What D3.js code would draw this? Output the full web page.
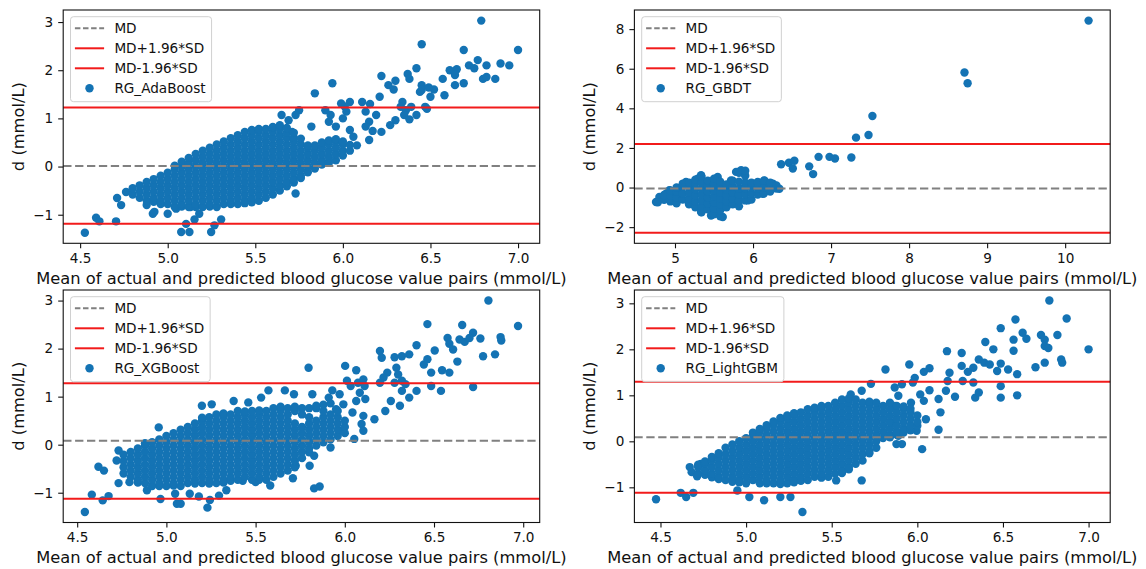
<!DOCTYPE html>
<html>
<head>
<meta charset="utf-8">
<script src="https://cdn.jsdelivr.net/npm/d3@7"></script>
<style>
  body { margin: 0; background: #fff; }
  svg { display: block; }
  text { font-family: "DejaVu Sans", sans-serif; fill: #111; }
</style>
</head>
<body>
<svg id="chart" width="1146" height="569"></svg>
<script>
// ---- data ----
const tickX = [4.5, 5.0, 5.5, 6.0, 6.5, 7.0];
const tickY = [-1, 0, 1, 2, 3];
const tickXGbdt = [5, 6, 7, 8, 9, 10];
const tickYGbdt = [-2, 0, 2, 4, 6, 8];
const legendLabels = ["MD", "MD+1.96*SD", "MD-1.96*SD"];

// [MD, MD+1.96SD, MD-1.96SD]
const adaLines = [0.014, 1.227, -1.185];
const gbdtLines = [-0.05, 2.20, -2.28];
const xgbLines = [0.083, 1.278, -1.126];
const lgbLines = [0.086, 1.297, -1.117];

// single points [mean, d]
const adaPoints = [[6.79,3.03],[6.45,2.54],[6.69,2.42],[7.0,2.42],
  [6.61,2.0],[6.65,2.02],[6.64,1.9],[6.72,2.1],[6.75,2.04],[6.77,2.21],[6.82,2.1],[6.9,2.14],[6.95,2.1],[6.87,1.82],[6.8,1.82],[6.82,1.86],
  [6.57,1.82],[6.69,1.73],[6.64,1.69],[6.58,1.48],[6.52,1.6],[6.5,1.45],
  [6.42,2.04],[6.37,1.92],[6.38,1.82],[6.3,1.78],[6.26,1.69],[6.29,1.6],[6.22,1.88],[6.21,1.45],
  [6.45,1.69],[6.45,1.59],[6.49,1.64],[6.44,1.55],[6.47,1.24],[6.48,1.2],
  [6.34,1.34],[6.33,1.24],[6.36,1.17],[6.39,1.24],[6.35,1.07],[6.42,1.07],[6.38,0.98],[6.3,0.96],[6.27,0.86],[6.22,0.72],
  [6.155,1.3],[6.11,1.34],[6.13,1.14],[6.19,1.07],[6.15,0.93],[6.13,0.83],[6.17,0.74],[6.15,0.55],
  [6.04,1.34],[6.01,1.25],[5.99,1.31],[6.02,1.14],[6.0,1.0],[6.04,0.76],[6.06,0.62],[6.08,0.44],
  [5.94,1.73],[5.84,1.52],[5.9,1.17],[5.93,1.07],[5.92,0.93],[5.96,0.83],[5.82,0.83],[5.75,1.17],[5.73,1.07],[5.69,0.96],[5.65,1.07],[5.71,0.72],
  [4.527,-1.373],[4.591,-1.061],[4.61,-1.137],[4.705,-1.137],[4.711,-0.652],[4.734,-0.8],[4.762,-0.527],[4.88,-0.8],[4.915,-0.98],[4.924,-0.94],
  [5.0,-0.98],[5.048,-0.874],[5.077,-1.36],[5.105,-1.19],[5.124,-1.36],[5.13,-0.84],[5.153,-1.1],[5.18,-0.98],[5.248,-1.36],[5.267,-1.22],[5.305,-1.1],[5.73,-0.56]];

// dense part: [mean, [d, d, ...]]
const adaCloud = [
  [4.80,[-0.58,-0.45]],
  [4.84,[-0.65,-0.52,-0.39]],
  [4.88,[-0.71,-0.58,-0.45,-0.32]],
  [4.92,[-0.73,-0.65,-0.52,-0.39,-0.26]],
  [4.96,[-0.78,-0.71,-0.58,-0.45,-0.32,-0.19]],
  [5.00,[-0.78,-0.65,-0.52,-0.39,-0.26,-0.13]],
  [5.04,[-0.84,-0.71,-0.58,-0.45,-0.32,-0.19,-0.06,0.02]],
  [5.08,[-0.83,-0.78,-0.65,-0.52,-0.39,-0.26,-0.13,0.00,0.10]],
  [5.12,[-0.84,-0.71,-0.58,-0.45,-0.32,-0.19,-0.06,0.07,0.18]],
  [5.16,[-0.84,-0.78,-0.65,-0.52,-0.39,-0.26,-0.13,0.00,0.13,0.26]],
  [5.20,[-0.84,-0.71,-0.58,-0.45,-0.32,-0.19,-0.06,0.07,0.20,0.33]],
  [5.24,[-0.83,-0.78,-0.65,-0.52,-0.39,-0.26,-0.13,0.00,0.13,0.26,0.39]],
  [5.28,[-0.84,-0.71,-0.58,-0.45,-0.32,-0.19,-0.06,0.07,0.20,0.33,0.46]],
  [5.32,[-0.78,-0.65,-0.52,-0.39,-0.26,-0.13,0.00,0.13,0.26,0.39,0.52]],
  [5.36,[-0.78,-0.71,-0.58,-0.45,-0.32,-0.19,-0.06,0.07,0.20,0.33,0.46,0.59]],
  [5.40,[-0.78,-0.65,-0.52,-0.39,-0.26,-0.13,0.00,0.13,0.26,0.39,0.52,0.65]],
  [5.44,[-0.76,-0.71,-0.58,-0.45,-0.32,-0.19,-0.06,0.07,0.20,0.33,0.46,0.59,0.72]],
  [5.48,[-0.74,-0.65,-0.52,-0.39,-0.26,-0.13,0.00,0.13,0.26,0.39,0.52,0.65,0.76]],
  [5.52,[-0.71,-0.58,-0.45,-0.32,-0.19,-0.06,0.07,0.20,0.33,0.46,0.59,0.72,0.78]],
  [5.56,[-0.65,-0.52,-0.39,-0.26,-0.13,0.00,0.13,0.26,0.39,0.52,0.65,0.78]],
  [5.60,[-0.58,-0.45,-0.32,-0.19,-0.06,0.07,0.20,0.33,0.46,0.59,0.72,0.82]],
  [5.64,[-0.50,-0.39,-0.26,-0.13,0.00,0.13,0.26,0.39,0.52,0.65,0.78,0.86]],
  [5.68,[-0.41,-0.32,-0.19,-0.06,0.07,0.20,0.33,0.46,0.59,0.70,0.80]],
  [5.72,[-0.33,-0.26,-0.13,0.00,0.13,0.26,0.39,0.52,0.60,0.70]],
  [5.76,[-0.24,-0.19,-0.06,0.07,0.20,0.33,0.46,0.58]],
  [5.80,[-0.12,0.00,0.13,0.26,0.39,0.44]],
  [5.84,[-0.04,0.07,0.20,0.33,0.44]],
  [5.88,[0.04,0.13,0.26,0.39,0.50]],
  [5.92,[0.08,0.20,0.33,0.46,0.54]],
  [5.96,[0.13,0.26,0.39,0.52,0.57]],
  [6.00,[0.23,0.33,0.46,0.52]],
  [6.04,[0.33,0.45]]
];

const gbdtPoints = [[4.757,-0.73],[4.80,-0.48],[4.885,-0.31],[4.928,-0.14],[4.992,-0.65],[5.035,-0.06],[5.099,0.11],[5.141,0.28],[5.163,-0.65],
  [5.227,-0.82],[5.248,0.20],[5.291,0.45],[5.334,0.62],[5.334,-1.24],[5.376,-0.48],[5.398,-0.06],[5.462,-1.41],[5.483,-0.82],[5.526,0.36],
  [5.547,0.53],[5.569,-0.23],[5.612,-1.49],[5.654,-0.48],[5.718,0.36],[5.783,0.79],[5.847,0.87],[5.89,0.70],[5.868,-0.06],[5.825,-0.65],
  [5.932,-0.65],[5.996,0.11],[6.06,0.28],[6.103,0.11],[6.146,0.36],[6.124,-0.31],[6.21,0.11],[6.253,0.20],[6.295,0.03],[6.338,-0.06],
  [6.36,1.18],[6.46,1.25],[6.53,1.35],[6.51,0.96],[6.72,1.07],[6.77,0.68],[6.84,1.55],[6.98,1.55],[7.05,1.47],[7.26,1.52],
  [7.32,2.52],[7.48,2.65],[7.53,3.61],[8.71,5.81],[8.75,5.27],[10.30,8.43]];
const gbdtCloud = [
  [4.78,[-0.75]],
  [4.86,[-0.62,-0.38]],
  [4.94,[-0.70,-0.40,-0.15]],
  [5.02,[-0.80,-0.50,-0.20,0.00]],
  [5.10,[-0.60,-0.30,0.05,0.20]],
  [5.18,[-0.85,-0.55,-0.25,0.05,0.25]],
  [5.26,[-1.00,-0.70,-0.40,-0.10,0.20,0.40]],
  [5.34,[-1.25,-0.95,-0.65,-0.35,-0.05,0.25,0.55]],
  [5.42,[-1.10,-0.80,-0.50,-0.20,0.10,0.35]],
  [5.50,[-1.35,-1.05,-0.75,-0.45,-0.15,0.15,0.45]],
  [5.58,[-1.45,-1.15,-0.85,-0.55,-0.25,0.05,0.30]],
  [5.66,[-1.00,-0.70,-0.40,-0.10,0.15]],
  [5.74,[-0.85,-0.55,-0.25,0.05,0.35]],
  [5.82,[-0.95,-0.65,-0.35,-0.05,0.30,0.75]],
  [5.90,[-0.65,-0.35,-0.05,0.25,0.60,0.85]],
  [5.98,[-0.60,-0.30,0.00,0.25]],
  [6.06,[-0.35,-0.05,0.25]],
  [6.14,[-0.30,0.00,0.35]],
  [6.22,[-0.20,0.10,0.25]],
  [6.30,[-0.05,0.10]]
];

const xgbPoints = [[6.805,3.0],[6.971,2.47],[6.463,2.51],[6.658,2.49],[6.719,2.33],[6.576,2.22],[6.586,2.1],[6.643,2.19],[6.672,2.14],[6.699,2.22],
  [6.76,2.21],[6.873,2.24],[6.877,2.17],[6.842,1.88],[6.775,1.84],[6.607,1.98],[6.631,1.73],[6.504,1.96],[6.402,2.07],[6.361,1.88],[6.32,1.84],
  [6.279,1.82],[6.197,1.95],[6.207,1.81],[6.443,1.67],[6.463,1.78],[6.484,1.5],[6.545,1.55],[6.586,1.5],[6.484,1.22],[6.539,1.12],[6.719,1.2],
  [6.289,1.6],[6.299,1.46],[6.238,1.5],[6.217,1.4],[6.197,1.29],[6.32,1.33],[6.279,1.29],[6.34,1.26],[6.32,1.12],[6.402,1.12],[6.361,0.98],
  [6.258,0.91],[6.309,0.81],[6.227,0.7],[6.166,0.53],[6.002,1.64],[6.064,1.55],[5.797,1.6],[6.012,1.33],[6.033,1.22],[6.074,1.29],[6.104,1.36],
  [6.111,1.22],[6.084,1.08],[6.115,0.95],[6.064,0.91],[6.043,0.67],[6.104,0.6],[6.094,0.43],[6.104,0.29],[6.053,0.12],[5.98,0.29],[5.92,-0.06],
  [5.828,-0.23],[5.803,-0.44],[5.828,-0.91],[5.859,-0.87],
  [4.543,-1.4],[4.582,-1.04],[4.643,-1.16],[4.676,-1.07],[4.619,-0.46],[4.65,-0.54],[4.732,-0.8],[4.721,-0.33],[4.732,-0.12],[4.793,-0.78],
  [4.891,-0.95],[4.957,0.36],[4.967,-1.13],[5.049,-1.02],[5.059,-1.23],[5.08,-1.23],[5.131,-1.02],[5.182,-1.08],[5.23,-1.31],[5.244,-1.15],
  [5.295,-1.06],[5.336,-0.95],[5.428,-0.75],[5.5,-0.78],[5.582,-0.85],[5.709,-0.7],[5.725,-0.44],
  [5.199,0.81],[5.254,0.84],[5.377,0.91],[5.459,0.88],[5.531,0.98],[5.572,1.13],[5.664,1.13],[5.715,1.05],[5.818,1.05],[5.93,1.13],
  [5.971,1.05],[5.91,0.98],[5.992,0.84],[5.951,0.74]];
const xgbCloud = [
  [4.76,[-0.60,-0.47,-0.34,-0.21]],
  [4.80,[-0.67,-0.54,-0.41,-0.28,-0.15]],
  [4.84,[-0.79,-0.73,-0.60,-0.47,-0.34,-0.21,-0.08]],
  [4.88,[-0.80,-0.67,-0.54,-0.41,-0.28,-0.15,-0.02,0.03]],
  [4.92,[-0.86,-0.73,-0.60,-0.47,-0.34,-0.21,-0.08,0.05]],
  [4.96,[-0.86,-0.80,-0.67,-0.54,-0.41,-0.28,-0.15,-0.02,0.11]],
  [5.00,[-0.86,-0.73,-0.60,-0.47,-0.34,-0.21,-0.08,0.05,0.18]],
  [5.04,[-0.85,-0.80,-0.67,-0.54,-0.41,-0.28,-0.15,-0.02,0.11,0.24]],
  [5.08,[-0.86,-0.73,-0.60,-0.47,-0.34,-0.21,-0.08,0.05,0.18,0.31]],
  [5.12,[-0.80,-0.67,-0.54,-0.41,-0.28,-0.15,-0.02,0.11,0.24,0.37]],
  [5.16,[-0.81,-0.73,-0.60,-0.47,-0.34,-0.21,-0.08,0.05,0.18,0.31,0.44]],
  [5.20,[-0.80,-0.67,-0.54,-0.41,-0.28,-0.15,-0.02,0.11,0.24,0.37,0.50,0.56]],
  [5.24,[-0.81,-0.73,-0.60,-0.47,-0.34,-0.21,-0.08,0.05,0.18,0.31,0.44,0.57]],
  [5.28,[-0.80,-0.67,-0.54,-0.41,-0.28,-0.15,-0.02,0.11,0.24,0.37,0.50,0.63]],
  [5.32,[-0.79,-0.73,-0.60,-0.47,-0.34,-0.21,-0.08,0.05,0.18,0.31,0.44,0.57,0.65]],
  [5.36,[-0.75,-0.67,-0.54,-0.41,-0.28,-0.15,-0.02,0.11,0.24,0.37,0.50,0.63]],
  [5.40,[-0.73,-0.60,-0.47,-0.34,-0.21,-0.08,0.05,0.18,0.31,0.44,0.57,0.70]],
  [5.44,[-0.67,-0.54,-0.41,-0.28,-0.15,-0.02,0.11,0.24,0.37,0.50,0.63,0.69]],
  [5.48,[-0.73,-0.60,-0.47,-0.34,-0.21,-0.08,0.05,0.18,0.31,0.44,0.57,0.70]],
  [5.52,[-0.73,-0.67,-0.54,-0.41,-0.28,-0.15,-0.02,0.11,0.24,0.37,0.50,0.63,0.71]],
  [5.56,[-0.73,-0.60,-0.47,-0.34,-0.21,-0.08,0.05,0.18,0.31,0.44,0.57,0.70]],
  [5.60,[-0.67,-0.54,-0.41,-0.28,-0.15,-0.02,0.11,0.24,0.37,0.50,0.63,0.76]],
  [5.64,[-0.60,-0.47,-0.34,-0.21,-0.08,0.05,0.18,0.31,0.44,0.57,0.70,0.79]],
  [5.68,[-0.54,-0.41,-0.28,-0.15,-0.02,0.11,0.24,0.37,0.50,0.63,0.76]],
  [5.72,[-0.47,-0.34,-0.21,-0.08,0.05,0.18,0.31,0.44,0.70,0.79]],
  [5.76,[-0.28,-0.15,-0.02,0.11,0.24,0.37,0.63,0.76]],
  [5.80,[-0.16,-0.08,0.05,0.18,0.31,0.44,0.57,0.76]],
  [5.84,[-0.02,0.11,0.24,0.37,0.50,0.76,0.81]],
  [5.88,[0.05,0.18,0.31,0.44,0.57,0.70,0.83]],
  [5.92,[0.11,0.24,0.37,0.50,0.63,0.86]],
  [5.96,[0.18,0.31,0.44,0.57,0.70]],
  [6.00,[0.24,0.37,0.50]]
];

const lgbPoints = [[6.771,3.06],[6.872,2.67],[6.573,2.65],[6.487,2.46],[6.615,2.36],[6.637,2.23],[6.562,2.21],[6.722,2.31],[6.744,2.21],[6.818,2.31],
  [6.744,2.07],[6.765,2.03],[7.0,2.0],[6.397,2.16],[6.444,2.0],[6.562,1.97],[6.173,1.96],[6.259,1.92],[6.84,1.78],[6.846,1.71],[6.744,1.71],
  [6.69,1.61],[6.359,1.78],[6.391,1.71],[6.423,1.67],[6.487,1.69],[6.53,1.56],[6.466,1.53],[6.583,1.46],[6.327,1.6],[6.295,1.51],[6.259,1.64],
  [6.188,1.49],[6.177,1.31],[6.265,1.31],[6.327,1.28],[6.338,0.95],[6.359,1.06],[6.487,1.2],[6.487,0.95],[6.583,1.0],[6.22,0.97],[6.167,1.1],
  [6.124,0.92],[6.135,0.63],[6.124,0.25],[6.028,-0.17],[6.05,0.48],[5.996,0.23],[5.953,1.67],[5.814,1.56],[6.071,1.59],[6.038,1.51],[5.985,1.38],
  [5.974,1.28],[6.071,1.11],[6.017,1.02],[6.038,0.88],[5.963,0.84],[5.91,1.24],[5.868,1.17],[5.889,0.99],[5.868,0.77],[5.846,0.41],[5.889,0.12],
  [5.91,-0.06],[5.878,-0.06],[5.729,1.25],[5.675,1.1],[5.611,1.02],[5.675,-0.85],[5.526,-0.85],
  [4.474,-1.26],[4.618,-1.12],[4.65,-1.21],[4.692,-1.12],[4.671,-0.56],[4.682,-0.67],[4.714,-0.76],[4.735,-0.49],[4.949,-1.07],[5.019,-1.21],
  [5.105,-1.28],[5.2,-1.21],[5.259,-1.21],[5.329,-1.535]];
const lgbCloud = [
  [4.72,[-0.70,-0.56,-0.51]],
  [4.76,[-0.73,-0.63,-0.49,-0.44]],
  [4.80,[-0.78,-0.70,-0.56,-0.42,-0.34]],
  [4.84,[-0.82,-0.77,-0.63,-0.49,-0.35,-0.26]],
  [4.88,[-0.84,-0.70,-0.56,-0.42,-0.28,-0.14]],
  [4.92,[-0.88,-0.77,-0.63,-0.49,-0.35,-0.21,-0.07]],
  [4.96,[-0.89,-0.84,-0.70,-0.56,-0.42,-0.28,-0.14,0.00]],
  [5.00,[-0.91,-0.77,-0.63,-0.49,-0.35,-0.21,-0.07,0.07]],
  [5.04,[-0.84,-0.70,-0.56,-0.42,-0.28,-0.14,0.00,0.14,0.19]],
  [5.08,[-0.91,-0.77,-0.63,-0.49,-0.35,-0.21,-0.07,0.07,0.21,0.27]],
  [5.12,[-0.91,-0.84,-0.70,-0.56,-0.42,-0.28,-0.14,0.00,0.14,0.28,0.35]],
  [5.16,[-0.91,-0.77,-0.63,-0.49,-0.35,-0.21,-0.07,0.07,0.21,0.35,0.43]],
  [5.20,[-0.93,-0.84,-0.70,-0.56,-0.42,-0.28,-0.14,0.00,0.14,0.28,0.42,0.51]],
  [5.24,[-0.91,-0.77,-0.63,-0.49,-0.35,-0.21,-0.07,0.07,0.21,0.35,0.49,0.56]],
  [5.28,[-0.89,-0.84,-0.70,-0.56,-0.42,-0.28,-0.14,0.00,0.14,0.28,0.42,0.56,0.61]],
  [5.32,[-0.86,-0.77,-0.63,-0.49,-0.35,-0.21,-0.07,0.07,0.21,0.35,0.49,0.63]],
  [5.36,[-0.84,-0.70,-0.56,-0.42,-0.28,-0.14,0.00,0.14,0.28,0.42,0.56,0.70]],
  [5.40,[-0.77,-0.63,-0.49,-0.35,-0.21,-0.07,0.07,0.21,0.35,0.49,0.63,0.73]],
  [5.44,[-0.79,-0.70,-0.56,-0.42,-0.28,-0.14,0.00,0.14,0.28,0.42,0.56,0.70,0.77]],
  [5.48,[-0.77,-0.63,-0.49,-0.35,-0.21,-0.07,0.07,0.21,0.35,0.49,0.63,0.77]],
  [5.52,[-0.70,-0.56,-0.42,-0.28,-0.14,0.00,0.14,0.28,0.42,0.56,0.70,0.84]],
  [5.56,[-0.69,-0.63,-0.49,-0.35,-0.21,-0.07,0.07,0.21,0.35,0.49,0.63,0.77,0.91]],
  [5.60,[-0.61,-0.56,-0.42,-0.28,-0.14,0.00,0.14,0.28,0.42,0.56,0.70,0.84,0.93]],
  [5.64,[-0.49,-0.35,-0.21,-0.07,0.07,0.21,0.35,0.49,0.63,0.77,0.91]],
  [5.68,[-0.42,-0.28,-0.14,0.00,0.14,0.28,0.42,0.56,0.70,0.84]],
  [5.72,[-0.26,-0.21,-0.07,0.07,0.21,0.35,0.49,0.63,0.77,0.86]],
  [5.76,[-0.14,0.00,0.14,0.28,0.42,0.56,0.70,0.84]],
  [5.80,[0.07,0.21,0.35,0.49,0.63,0.77]],
  [5.84,[0.09,0.14,0.28,0.42,0.56,0.70,0.84]],
  [5.88,[0.14,0.21,0.35,0.49,0.63,0.77]],
  [5.92,[0.19,0.28,0.42,0.56,0.70,0.76]],
  [5.96,[0.24,0.35,0.49,0.63,0.71]],
  [6.00,[0.34,0.42,0.56]]
];

// ---- layout ----
const blue = "#1473b4";
const red = "#f21b1b";
const tickFont = 13.6, labelFont = 16.3;

const panels = [
  {name: "RG_AdaBoost", points: adaPoints, cloud: adaCloud, lines: adaLines, xt: tickX, yt: tickY, xf: ".1f",
   x0: 63.2, x1: 539.7, y0: 10, y1: 243.3},
  {name: "RG_GBDT", points: gbdtPoints, cloud: gbdtCloud, lines: gbdtLines, xt: tickXGbdt, yt: tickYGbdt, xf: "d",
   x0: 634.4, x1: 1110.2, y0: 10, y1: 243.3},
  {name: "RG_XGBoost", points: xgbPoints, cloud: xgbCloud, lines: xgbLines, xt: tickX, yt: tickY, xf: ".1f",
   x0: 63.2, x1: 539.7, y0: 290, y1: 522.5},
  {name: "RG_LightGBM", points: lgbPoints, cloud: lgbCloud, lines: lgbLines, xt: tickX, yt: tickY, xf: ".1f",
   x0: 634.4, x1: 1110.2, y0: 290, y1: 522.5}
];

const svg = d3.select("#chart");

panels.forEach(function(p) {
  let pts = p.points.concat(p.cloud.flatMap(c => c[1].map(v => [c[0], v])));

  // matplotlib style autoscale: data + lines, 5% margins
  let [xmin, xmax] = d3.extent(pts, d => d[0]);
  let [ymin, ymax] = d3.extent(pts.map(d => d[1]).concat(p.lines));
  let px = (xmax - xmin) * 0.05, py = (ymax - ymin) * 0.05;

  let x = d3.scaleLinear().domain([xmin - px, xmax + px]).range([p.x0, p.x1]);
  let y = d3.scaleLinear().domain([ymin - py, ymax + py]).range([p.y1, p.y0]);

  let g = svg.append("g");

  // points
  g.append("g").selectAll("circle")
    .data(pts)
    .enter().append("circle")
    .attr("cx", d => x(d[0]))
    .attr("cy", d => y(d[1]))
    .attr("r", 4.2)
    .attr("fill", blue);

  // reference lines
  let styles = [
    {stroke: "#808080", dash: "8.3,3.6"},
    {stroke: red, dash: null},
    {stroke: red, dash: null}
  ];
  p.lines.forEach(function(v, i) {
    g.append("line")
      .attr("x1", p.x0).attr("x2", p.x1)
      .attr("y1", y(v)).attr("y2", y(v))
      .attr("stroke", styles[i].stroke)
      .attr("stroke-width", 2)
      .attr("stroke-dasharray", styles[i].dash);
  });

  // axes
  let ax = g.append("g")
    .attr("transform", "translate(0," + p.y1 + ")")
    .call(d3.axisBottom(x).tickValues(p.xt).tickFormat(d3.format(p.xf)).tickSize(5).tickSizeOuter(0).tickPadding(5.3));
  let ay = g.append("g")
    .attr("transform", "translate(" + p.x0 + ",0)")
    .call(d3.axisLeft(y).tickValues(p.yt).tickFormat(d3.format("d")).tickSize(5).tickSizeOuter(0).tickPadding(5));
  [ax, ay].forEach(function(a) {
    a.select(".domain").remove();
    a.selectAll("line").attr("stroke", "#111").attr("stroke-width", 1.1);
    a.selectAll("text").attr("font-size", tickFont).attr("font-family", "DejaVu Sans").attr("fill", "#111");
  });

  g.append("rect")
    .attr("x", p.x0).attr("y", p.y0)
    .attr("width", p.x1 - p.x0).attr("height", p.y1 - p.y0)
    .attr("fill", "none").attr("stroke", "#111").attr("stroke-width", 1.1);

  // axis titles
  g.append("text")
    .attr("x", (p.x0 + p.x1) / 2).attr("y", p.y1 + 34.5)
    .attr("dy", "0.35em")
    .attr("text-anchor", "middle")
    .attr("font-size", labelFont)
    .text("Mean of actual and predicted blood glucose value pairs (mmol/L)");
  let cy = (p.y0 + p.y1) / 2, cx = p.x0 - 45;
  g.append("text")
    .attr("transform", "translate(" + cx + "," + cy + ") rotate(-90)")
    .attr("dy", "0.35em")
    .attr("text-anchor", "middle")
    .attr("font-size", labelFont)
    .text("d (mmol/L)");

  // legend
  let lg = g.append("g").attr("transform", "translate(" + (p.x0 + 7.3) + "," + (p.y0 + 6.7) + ")");
  let frame = lg.append("rect");
  let labels = legendLabels.concat([p.name]);
  let maxW = 0;
  labels.forEach(function(t, i) {
    let ry = 11.6 + i * 20;
    if (i < 3) {
      lg.append("line")
        .attr("x1", 4.4).attr("x2", 33.6).attr("y1", ry).attr("y2", ry)
        .attr("stroke", styles[i].stroke).attr("stroke-width", 2)
        .attr("stroke-dasharray", styles[i].dash ? "5.5,2.6" : null);
    } else {
      lg.append("circle").attr("cx", 19).attr("cy", ry).attr("r", 4.2).attr("fill", blue);
    }
    let tx = lg.append("text")
      .attr("x", 43.9).attr("y", ry).attr("dy", "0.35em")
      .attr("font-size", tickFont)
      .text(t);
    maxW = Math.max(maxW, tx.node().getComputedTextLength());
  });
  frame.attr("x", 0).attr("y", 0)
    .attr("width", 43.9 + maxW + 6).attr("height", 85)
    .attr("rx", 3)
    .attr("fill", "#fff").attr("fill-opacity", 0.8)
    .attr("stroke", "#d0d0d0").attr("stroke-width", 1);
});
</script>
</body>
</html>
